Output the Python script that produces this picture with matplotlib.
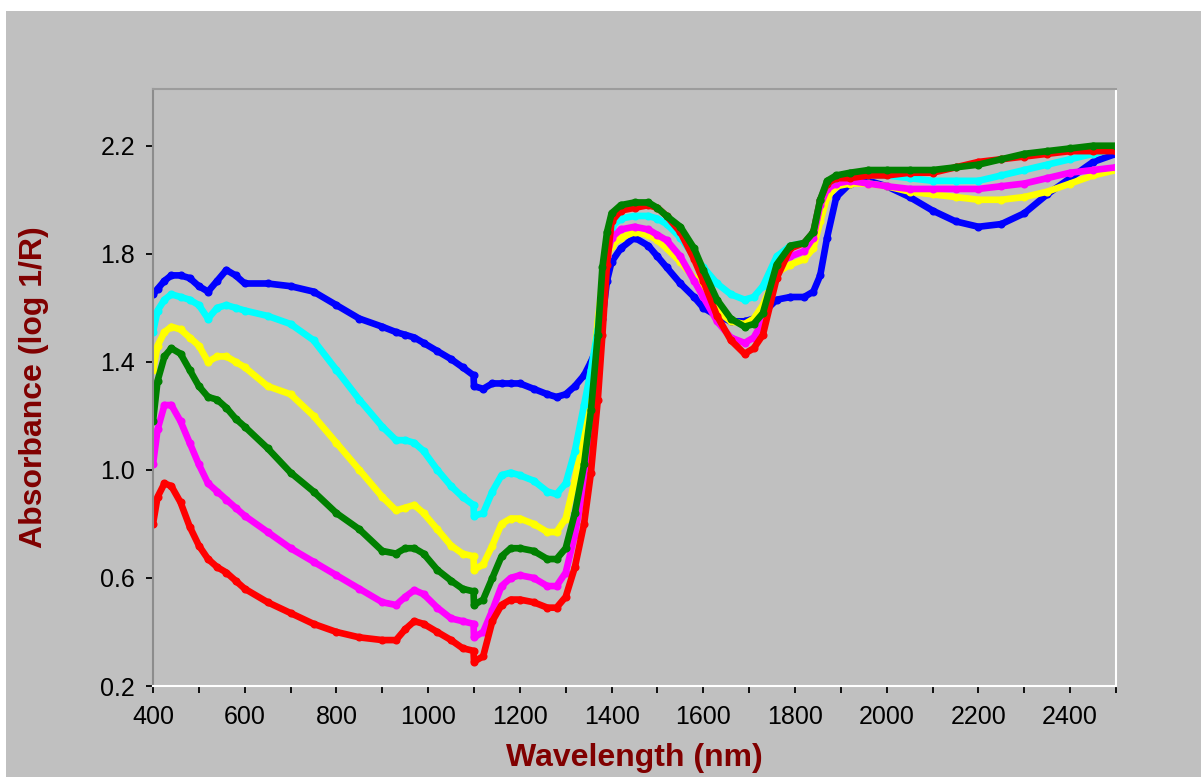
import matplotlib
matplotlib.use('Agg')
import matplotlib.pyplot as plt
from matplotlib.patches import Rectangle
from matplotlib.ticker import MultipleLocator

plt.rcParams['font.family'] = ['Liberation Sans', 'DejaVu Sans']

# wavelength grid (nm)
wavelength = [400, 410, 425, 440, 460, 480, 500, 520, 540, 560, 580, 600, 650, 700, 750,
              800, 850, 900, 930, 950, 970, 990, 1020, 1050, 1075, 1099, 1100, 1120, 1140,
              1160, 1180, 1200, 1230, 1260, 1280, 1300, 1320, 1340, 1355, 1370, 1380, 1390,
              1400, 1420, 1450, 1480, 1500, 1520, 1550, 1580, 1600, 1630, 1660, 1690, 1710,
              1730, 1760, 1790, 1820, 1840, 1855, 1870, 1890, 1920, 1960, 2000, 2050, 2100,
              2150, 2200, 2250, 2300, 2350, 2400, 2450, 2500]

blue = [1.65, 1.67, 1.70, 1.72, 1.72, 1.71, 1.68, 1.66, 1.70, 1.74, 1.72, 1.69, 1.69, 1.68, 1.66,
        1.61, 1.56, 1.53, 1.51, 1.50, 1.49, 1.47, 1.44, 1.41, 1.38, 1.35, 1.31, 1.30, 1.32,
        1.32, 1.32, 1.32, 1.30, 1.28, 1.27, 1.28, 1.31, 1.35, 1.40, 1.46, 1.56, 1.70,
        1.77, 1.82, 1.86, 1.83, 1.79, 1.75, 1.69, 1.64, 1.60, 1.57, 1.55, 1.55, 1.56,
        1.58, 1.63, 1.64, 1.64, 1.66, 1.72, 1.86, 2.01, 2.06, 2.07, 2.05, 2.01, 1.96,
        1.92, 1.90, 1.91, 1.95, 2.02, 2.08, 2.14, 2.17]

cyan = [1.51, 1.59, 1.63, 1.65, 1.64, 1.63, 1.61, 1.56, 1.60, 1.61, 1.60, 1.59, 1.57, 1.54, 1.48,
        1.37, 1.26, 1.16, 1.11, 1.11, 1.10, 1.07, 1.00, 0.94, 0.90, 0.87, 0.83, 0.84, 0.92,
        0.98, 0.99, 0.98, 0.96, 0.92, 0.91, 0.95, 1.07, 1.24, 1.37, 1.52, 1.68, 1.84,
        1.90, 1.93, 1.94, 1.94, 1.93, 1.91, 1.86, 1.79, 1.75, 1.69, 1.65, 1.63, 1.64,
        1.68, 1.79, 1.83, 1.84, 1.88, 2.00, 2.06, 2.08, 2.09, 2.09, 2.09, 2.08, 2.07,
        2.07, 2.07, 2.09, 2.11, 2.13, 2.15, 2.17, 2.19]

yellow = [1.37, 1.46, 1.51, 1.53, 1.52, 1.49, 1.46, 1.40, 1.42, 1.42, 1.40, 1.38, 1.31, 1.28, 1.20,
          1.10, 1.00, 0.90, 0.85, 0.86, 0.87, 0.84, 0.78, 0.72, 0.69, 0.68, 0.63, 0.65, 0.72,
          0.80, 0.82, 0.82, 0.80, 0.77, 0.77, 0.82, 0.96, 1.15, 1.33, 1.55, 1.70, 1.79,
          1.83, 1.86, 1.88, 1.87, 1.85, 1.82, 1.77, 1.71, 1.66, 1.59, 1.55, 1.54, 1.56,
          1.61, 1.73, 1.76, 1.78, 1.82, 1.92, 2.01, 2.05, 2.06, 2.06, 2.05, 2.03, 2.02,
          2.01, 2.00, 2.00, 2.01, 2.03, 2.06, 2.09, 2.11]

green = [1.18, 1.33, 1.42, 1.45, 1.43, 1.37, 1.31, 1.27, 1.26, 1.23, 1.19, 1.16, 1.08, 0.99, 0.92,
         0.84, 0.78, 0.70, 0.69, 0.71, 0.71, 0.69, 0.63, 0.59, 0.56, 0.55, 0.50, 0.52, 0.60,
         0.68, 0.71, 0.71, 0.70, 0.67, 0.67, 0.71, 0.84, 1.02, 1.22, 1.50, 1.75, 1.88,
         1.95, 1.98, 1.99, 1.99, 1.97, 1.94, 1.90, 1.82, 1.74, 1.63, 1.56, 1.53, 1.54,
         1.58, 1.76, 1.83, 1.84, 1.88, 2.00, 2.07, 2.09, 2.10, 2.11, 2.11, 2.11, 2.11,
         2.12, 2.13, 2.15, 2.17, 2.18, 2.19, 2.20, 2.20]

magenta = [1.02, 1.15, 1.24, 1.24, 1.18, 1.10, 1.02, 0.95, 0.92, 0.89, 0.86, 0.83, 0.77, 0.71, 0.66,
           0.61, 0.56, 0.51, 0.50, 0.53, 0.555, 0.54, 0.49, 0.45, 0.44, 0.43, 0.38, 0.40, 0.48,
           0.57, 0.60, 0.61, 0.60, 0.57, 0.57, 0.62, 0.76, 0.95, 1.14, 1.40, 1.62, 1.79,
           1.86, 1.89, 1.90, 1.89, 1.87, 1.85, 1.79, 1.70, 1.64, 1.55, 1.49, 1.47, 1.49,
           1.55, 1.76, 1.79, 1.81, 1.86, 1.98, 2.04, 2.06, 2.07, 2.06, 2.05, 2.04, 2.04,
           2.04, 2.04, 2.05, 2.06, 2.08, 2.10, 2.11, 2.12]

red = [0.80, 0.90, 0.95, 0.94, 0.88, 0.79, 0.72, 0.67, 0.64, 0.62, 0.59, 0.56, 0.51, 0.47, 0.43,
       0.40, 0.38, 0.37, 0.37, 0.41, 0.44, 0.43, 0.40, 0.37, 0.34, 0.33, 0.29, 0.31, 0.44,
       0.50, 0.52, 0.52, 0.51, 0.49, 0.49, 0.53, 0.64, 0.80, 0.99, 1.26, 1.50, 1.76,
       1.92, 1.96, 1.97, 1.98, 1.97, 1.94, 1.88, 1.78, 1.70, 1.57, 1.48, 1.43, 1.45,
       1.50, 1.71, 1.82, 1.84, 1.88, 2.00, 2.06, 2.08, 2.08, 2.09, 2.09, 2.10, 2.10,
       2.12, 2.14, 2.15, 2.16, 2.17, 2.18, 2.18, 2.18]

series = [(blue, '#0000FF'), (yellow, '#FFFF00'), (magenta, '#FF00FF'),
          (cyan, '#00FFFF'), (red, '#FF0000'), (green, '#008000')]

W, H = 1201, 777
fig = plt.figure(figsize=(W / 100, H / 100), dpi=100)
fig.patch.set_facecolor('white')
fig.patches.append(Rectangle((6 / W, 0), 1, 1 - 11 / H, transform=fig.transFigure,
                             facecolor='#C0C0C0', edgecolor='none', zorder=-10))

ax = fig.add_axes([153 / W, (H - 686) / H, 963 / W, 597 / H])
ax.set_zorder(5)
ax.set_facecolor('#C0C0C0')

for vals, col in series:
    ax.plot(wavelength, vals, color=col, lw=4.8, marker='o', ms=4.8,
            solid_capstyle='round', solid_joinstyle='round')

ax.set_xlim(400, 2500)
ax.set_ylim(0.2, 2.41)
ax.xaxis.set_major_locator(MultipleLocator(200))
ax.xaxis.set_minor_locator(MultipleLocator(100))
ax.set_yticks([0.2, 0.6, 1.0, 1.4, 1.8, 2.2])
ax.set_yticklabels(['0.2', '0.6', '1.0', '1.4', '1.8', '2.2'])
ax.set_xticks(range(400, 2401, 200))

ax.tick_params(axis='both', which='both', direction='out', length=5, width=1.3,
               color='black', labelsize=18)
ax.tick_params(axis='x', which='both', pad=9)
ax.tick_params(axis='y', pad=8)

ax.spines['left'].set_color('#8C8C8C')
ax.spines['top'].set_color('#9C9C9C')
ax.spines['right'].set_color('white')
ax.spines['bottom'].set_color('white')
for s in ax.spines.values():
    s.set_linewidth(1.5)

fig.text(634.5 / W, 1 - 758 / H, 'Wavelength (nm)', ha='center', va='center',
         fontsize=23, fontweight='bold', color='#800000')
fig.text(34 / W, 1 - 387.5 / H, 'Absorbance (log 1/R)', ha='center', va='center',
         rotation=90, fontsize=23, fontweight='bold', color='#800000')

fig.savefig('out.png', dpi=100, facecolor=fig.get_facecolor())
